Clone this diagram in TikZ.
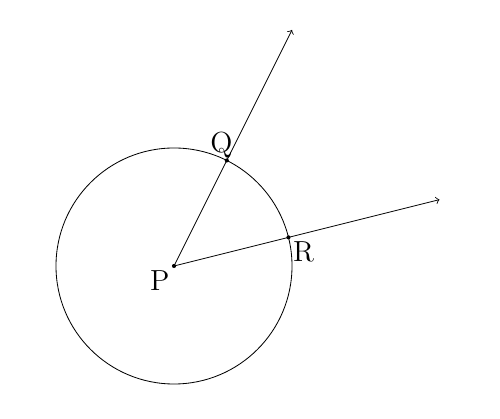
\documentclass[tikz,border=0pt]{standalone}
\usepackage{amsmath}
\usepackage{tikz}
\usetikzlibrary{positioning}
\tikzstyle{point} = [fill=black]
\tikzstyle{ray} = [->, thin]
\tikzstyle{lbl} = [font=\fontsize{14}{16}\selectfont, inner sep=1pt]
\begin{document}
\begin{tikzpicture}
	\useasboundingbox (-2.949,-2.593) rectangle (5.525,4.508);

	\coordinate (P) at (0,0);
	\coordinate (Qend) at (2,4);
	\coordinate (Rend) at (4.5,1.125);
	\coordinate (Q) at (63.43:2);
	\coordinate (R) at (14.04:2);

	% cercle
	\draw[thin] (P) circle (2);

	% demi-droites
	\draw[ray] (P) to (Qend);%P->Q
	\draw[ray] (P) to (Rend);%P->R

	\fill[point]
		(P) circle (.035)
		(Q) circle (.035)
		(R) circle (.035);

	\node[lbl, above left=0pt and -4pt of Q] (lQ) {Q};
	\node[lbl, below left=1pt and 1pt of P] (lP) {P};
	\node[lbl, below right=1pt and 1pt of R] (lR) {R};
\end{tikzpicture}
\end{document}
